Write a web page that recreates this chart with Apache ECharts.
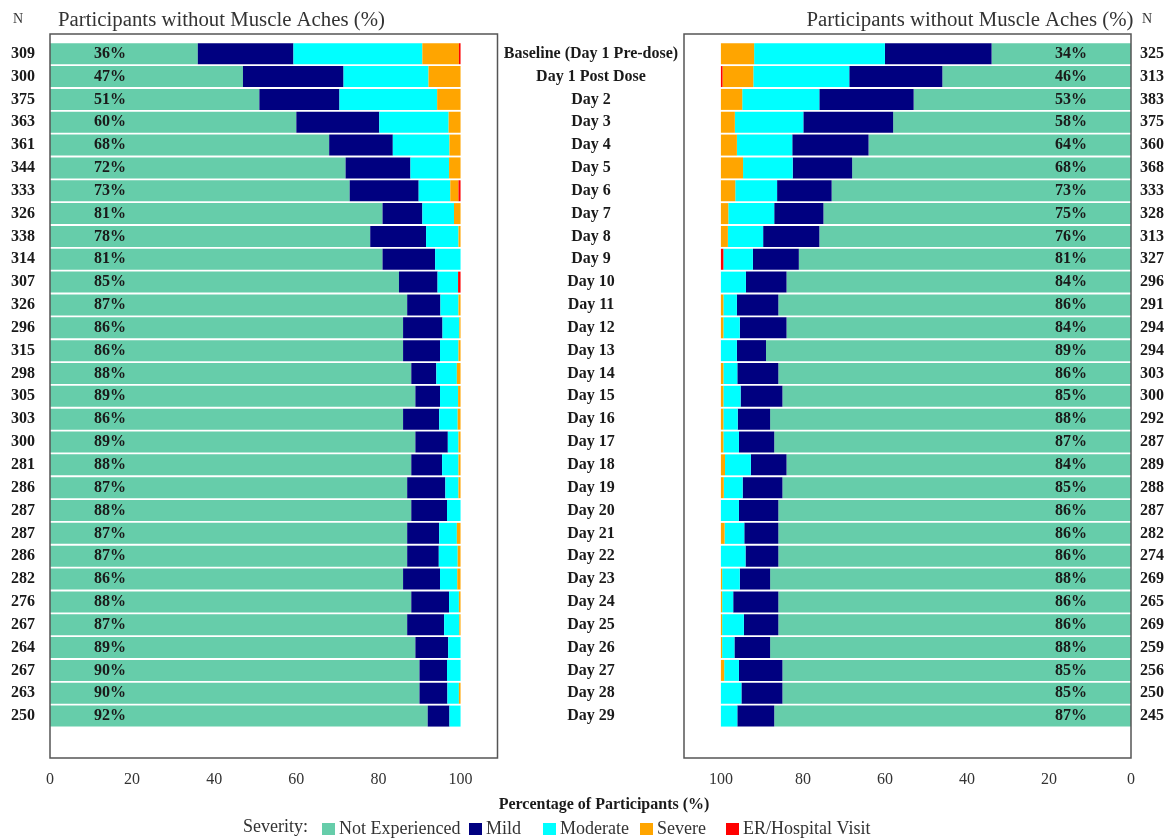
<!DOCTYPE html>
<html><head><meta charset="utf-8">
<script src="https://cdn.jsdelivr.net/npm/echarts@6/dist/echarts.min.js"></script>
<style>html,body{margin:0;padding:0;background:#fff}#c{width:1172px;height:839px}</style>
</head><body><div id="c"></div>
<script>
const days = ['Baseline (Day 1 Pre-dose)','Day 1 Post Dose','Day 2','Day 3','Day 4','Day 5','Day 6','Day 7','Day 8','Day 9','Day 10','Day 11','Day 12','Day 13','Day 14','Day 15','Day 16','Day 17','Day 18','Day 19','Day 20','Day 21','Day 22','Day 23','Day 24','Day 25','Day 26','Day 27','Day 28','Day 29'];
const nLeft = [309,300,375,363,361,344,333,326,338,314,307,326,296,315,298,305,303,300,281,286,287,287,286,282,276,267,264,267,263,250];
const nRight = [325,313,383,375,360,368,333,328,313,327,296,291,294,294,303,300,292,287,289,288,287,282,274,269,265,269,259,256,250,245];
const xTicks = [0,20,40,60,80,100];
const severityNames = ['Not Experienced','Mild','Moderate','Severe','ER/Hospital Visit'];

const leftNE   = [36,47,51,60,68,72,73,81,78,81,85,87,86,86,88,89,86,89,88,87,88,87,87,86,88,87,89,90,90,92];
const leftMild = [23.3,24.5,19.5,20.2,15.5,15.8,16.8,9.7,13.6,12.8,9.4,8.1,9.6,9,6.1,6,8.8,7.9,7.5,9.3,8.7,7.8,7.7,9,9.2,9,8,6.7,6.8,5.3];
const leftMod  = [31.4,20.7,23.8,16.9,13.8,9.4,7.7,7.7,7.9,6.2,5.0,4.4,4.1,4.5,5,4.4,4.5,2.6,4,3.2,3.3,4.3,4.6,4.2,2.4,3.7,3,3.3,2.8,2.7];
const leftSev  = [8.9,7.8,5.7,2.9,2.7,2.8,2.0,1.6,0.5,0,0,0.5,0.3,0.5,0.9,0.6,0.7,0.5,0.5,0.5,0,0.9,0.7,0.8,0.4,0.3,0,0,0.4,0];
const leftER   = [0.4,0,0,0,0,0,0.5,0,0,0,0.6,0,0,0,0,0,0,0,0,0,0,0,0,0,0,0,0,0,0,0];

const rightNE   = [34,46,53,58,64,68,73,75,76,81,84,86,84,89,86,85,88,87,84,85,86,86,86,88,86,86,88,85,85,87];
const rightMild = [26,22.7,23,21.9,18.6,14.5,13.3,12,13.7,11.2,9.9,10.1,11.4,7.1,10,10.2,7.9,8.6,8.7,9.7,9.6,8.3,8,7.4,11,8.4,8.7,10.6,10,9];
const rightMod  = [31.9,23.4,18.8,16.7,13.5,12.1,10.2,11.2,8.6,7.2,6.1,3.3,4,3.9,3.4,4.2,3.5,3.8,6.3,4.6,4.4,4.8,6,4.3,2.7,5.3,3,3.6,5,4];
const rightSev  = [8.1,7.5,5.2,3.4,3.9,5.4,3.5,1.8,1.7,0,0,0.6,0.6,0,0.6,0.6,0.6,0.6,1.0,0.7,0,0.9,0,0.3,0.3,0.3,0.3,0.8,0,0];
const rightER   = [0,0.4,0,0,0,0,0,0,0,0.6,0,0,0,0,0,0,0,0,0,0,0,0,0,0,0,0,0,0,0,0];

const SERIF = "'Liberation Serif','Times New Roman',serif";
const COLORS = ['#66CDAA','#000080','#00FFFF','#FFA500','#FF0000'];

const gridTop = 42.3, gridH = 685.2;
const chart = echarts.init(document.getElementById('c'));

function xAxisCfg(gi, inverse) {
  return {
    gridIndex: gi, type: 'value', min: 0, max: 109, interval: 20, inverse: inverse,
    axisLine: {show: false}, axisTick: {show: false}, splitLine: {show: false},
    axisLabel: {margin: 44, fontSize: 16, fontFamily: SERIF, color: '#333',
      formatter: v => (xTicks.indexOf(v) >= 0 ? String(v) : '')}
  };
}
const yBase = {type: 'category', data: days, inverse: true,
  axisLine: {show: false}, axisTick: {show: false}, splitLine: {show: false}};

function makeSeries(vals, side) {
  const gi = side === 'L' ? 0 : 1;
  return vals.map((d, k) => ({
    name: severityNames[k], type: 'bar', stack: side,
    xAxisIndex: gi, yAxisIndex: gi,
    barWidth: 21, data: d,
    itemStyle: {color: COLORS[k]},
    emphasis: {disabled: true},
    label: k === 0 ? {
      show: true, position: side === 'L' ? 'insideLeft' : 'insideRight', distance: 44,
      formatter: p => p.value + '%', fontFamily: SERIF, fontSize: 16, fontWeight: 'bold', color: '#1a1a1a'
    } : {show: false}
  }));
}

const legendPos = [322, 469, 543, 640, 726];
const legends = severityNames.map((n, i) => ({
  data: [n], left: legendPos[i], top: 820, padding: 0, selectedMode: false,
  icon: 'rect', itemWidth: 13, itemHeight: 12,
  textStyle: {fontFamily: SERIF, fontSize: 18, color: '#333', padding: [0,0,0,-1]}
}));

const option = {
  animation: false,
  backgroundColor: '#fff',
  grid: [
    {left: 50, top: gridTop, width: 447.5, height: gridH},
    {left: 684, top: gridTop, width: 447, height: gridH}
  ],
  xAxis: [xAxisCfg(0, false), xAxisCfg(1, true)],
  yAxis: [
    Object.assign({}, yBase, {gridIndex: 0, position: 'left',
      axisLabel: {margin: 15, formatter: (v, i) => String(nLeft[i]), fontFamily: SERIF, fontSize: 16, fontWeight: 'bold', color: '#1a1a1a'}}),
    Object.assign({}, yBase, {gridIndex: 1, position: 'left',
      axisLabel: {margin: 93, align: 'center', fontFamily: SERIF, fontSize: 16, fontWeight: 'bold', color: '#1a1a1a'}}),
    Object.assign({}, yBase, {gridIndex: 1, position: 'right',
      axisLabel: {margin: 9, align: 'left', formatter: (v, i) => String(nRight[i]), fontFamily: SERIF, fontSize: 16, fontWeight: 'bold', color: '#1a1a1a'}})
  ],
  legend: legends,
  series: [].concat(
    makeSeries([leftNE, leftMild, leftMod, leftSev, leftER], 'L'),
    makeSeries([rightNE, rightMild, rightMod, rightSev, rightER], 'R')
  ),
  graphic: [
    {type: 'rect', shape: {x: 50, y: 34, width: 447.5, height: 724}, style: {fill: 'none', stroke: '#555', lineWidth: 1.5}, z: 10, silent: true},
    {type: 'rect', shape: {x: 684, y: 34, width: 447, height: 724}, style: {fill: 'none', stroke: '#555', lineWidth: 1.5}, z: 10, silent: true},
    {type: 'text', x: 221.5, y: 21, style: {text: 'Participants without Muscle Aches (%)', font: '20.8px ' + SERIF, fill: '#333', align: 'center', verticalAlign: 'middle'}},
    {type: 'text', x: 970, y: 21, style: {text: 'Participants without Muscle Aches (%)', font: '20.8px ' + SERIF, fill: '#333', align: 'center', verticalAlign: 'middle'}},
    {type: 'text', x: 18, y: 19, style: {text: 'N', font: '14px ' + SERIF, fill: '#333', align: 'center', verticalAlign: 'middle'}},
    {type: 'text', x: 1147, y: 19, style: {text: 'N', font: '14px ' + SERIF, fill: '#333', align: 'center', verticalAlign: 'middle'}},
    {type: 'text', x: 604, y: 805, style: {text: 'Percentage of Participants (%)', font: 'bold 16px ' + SERIF, fill: '#1a1a1a', align: 'center', verticalAlign: 'middle'}},
    {type: 'text', x: 243, y: 827, style: {text: 'Severity:', font: '18px ' + SERIF, fill: '#333', align: 'left', verticalAlign: 'middle'}}
  ]
};
chart.setOption(option);
</script>
</body></html>
